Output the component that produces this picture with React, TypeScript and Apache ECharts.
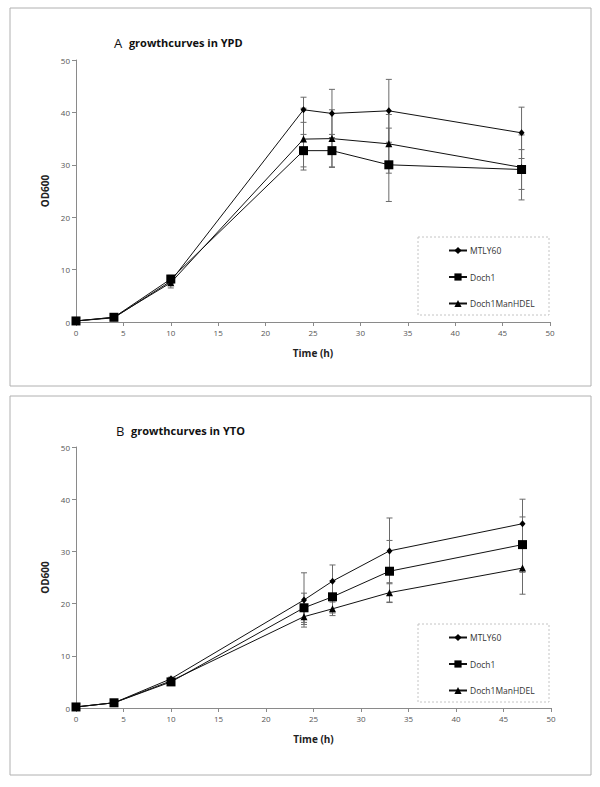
import React, { useEffect, useRef } from "react";
import * as echarts from "echarts";

const times = [0, 4, 10, 24, 27, 33, 47];
const seriesNames = ["MTLY60", "Doch1", "Doch1ManHDEL"];
const xTicks = { min: 0, max: 50, interval: 5 };
const yTicks = { min: 0, max: 50, interval: 10 };

// Panel A (YPD)
const mtlyA = [0.2, 0.8, 7.8, 40.5, 39.8, 40.3, 36.1];
const mtlyAErr = [0, 0, 0.5, 2.4, 4.6, 6.0, 4.9];
const doch1A = [0.2, 0.9, 8.2, 32.7, 32.7, 30.0, 29.1];
const doch1AErr = [0, 0, 0.7, 3.1, 3.1, 7.0, 3.8];
const manA = [0.2, 0.9, 7.5, 34.9, 35.0, 34.0, 29.5];
const manAErr = [0, 0, 1.0, 5.9, 5.5, 5.6, 6.2];

// Panel B (YTO)
const mtlyB = [0.2, 1.0, 5.6, 20.7, 24.3, 30.1, 35.3];
const mtlyBErr = [0, 0, 0.3, 5.2, 3.1, 6.3, 4.7];
const doch1B = [0.2, 1.0, 5.0, 19.2, 21.3, 26.2, 31.3];
const doch1BErr = [0, 0, 0.3, 2.8, 3.1, 5.9, 5.3];
const manB = [0.2, 1.0, 5.2, 17.5, 19.0, 22.1, 26.8];
const manBErr = [0, 0, 0.3, 1.5, 1.3, 1.9, 5.0];

const titleA = ["A", "growthcurves in YPD"];
const titleB = ["B", "growthcurves in YTO"];

const FONT = "'Open Sans', 'Noto Sans', sans-serif";

const symbols = [
  { symbol: "diamond", size: [6, 7] },
  { symbol: "rect", size: 9 },
  { symbol: "triangle", size: 7 },
];

function lineSeries(name: string, vals: number[], idx: number, panel: number) {
  return {
    type: "line",
    name,
    xAxisIndex: panel,
    yAxisIndex: panel,
    data: times.map((t, i) => [t, vals[i]]),
    symbol: symbols[idx].symbol,
    symbolSize: symbols[idx].size,
    showSymbol: true,
    itemStyle: { color: "#000" },
    lineStyle: { color: "#111", width: 1 },
    z: 3,
  };
}

function errSeries(vals: number[], errs: number[], panel: number) {
  return {
    type: "custom",
    name: "err" + panel,
    xAxisIndex: panel,
    yAxisIndex: panel,
    data: times.map((t, i) => [t, vals[i], errs[i]]),
    z: 2,
    silent: true,
    renderItem: (params: any, api: any) => {
      const x = api.value(0);
      const y = api.value(1);
      const e = api.value(2);
      if (!e) return { type: "group", children: [] };
      const top = api.coord([x, y + e]);
      const bot = api.coord([x, y - e]);
      const cap = 3;
      const style = { stroke: "#6a6a6a", lineWidth: 1 };
      return {
        type: "group",
        children: [
          { type: "line", shape: { x1: top[0], y1: top[1], x2: bot[0], y2: bot[1] }, style },
          { type: "line", shape: { x1: top[0] - cap, y1: top[1], x2: top[0] + cap, y2: top[1] }, style },
          { type: "line", shape: { x1: bot[0] - cap, y1: bot[1], x2: bot[0] + cap, y2: bot[1] }, style },
        ],
      };
    },
  };
}

function xAxis(panel: number) {
  return {
    type: "value",
    gridIndex: panel,
    min: xTicks.min,
    max: xTicks.max,
    interval: xTicks.interval,
    name: "Time (h)",
    nameLocation: "middle",
    nameGap: 26,
    nameTextStyle: { fontFamily: FONT, fontWeight: "bold", fontSize: 10, color: "#222" },
    axisLine: { show: true, lineStyle: { color: "#8a8a8a", width: 1 } },
    axisTick: { show: true, length: 4, lineStyle: { color: "#8a8a8a" } },
    axisLabel: { fontFamily: FONT, fontSize: 8, color: "#555", margin: 6 },
    splitLine: { show: false },
  };
}

function yAxis(panel: number) {
  return {
    type: "value",
    gridIndex: panel,
    min: yTicks.min,
    max: yTicks.max,
    interval: yTicks.interval,
    name: "OD600",
    nameLocation: "middle",
    nameGap: 23,
    nameTextStyle: { fontFamily: FONT, fontWeight: "bold", fontSize: 10, color: "#222" },
    axisLine: { show: true, lineStyle: { color: "#8a8a8a", width: 1 } },
    axisTick: { show: true, length: 4, lineStyle: { color: "#8a8a8a" } },
    axisLabel: { fontFamily: FONT, fontSize: 8, color: "#555", margin: 6 },
    splitLine: { show: false },
  };
}

function legend(top: number) {
  return {
    data: seriesNames,
    orient: "vertical",
    left: 443,
    top,
    itemWidth: 18,
    itemHeight: 9,
    itemGap: 17.5,
    selectedMode: false,
    textStyle: { fontFamily: FONT, fontSize: 8.5, color: "#333", padding: [0, 0, 0, -2] },
  };
}

function titleText(parts: string[], x: number, y: number) {
  return {
    type: "text",
    left: x,
    top: y,
    style: {
      text: "{a|" + parts[0] + "}  {b|" + parts[1] + "}",
      rich: {
        a: { fontFamily: FONT, fontSize: 13, fill: "#111" },
        b: { fontFamily: FONT, fontSize: 11, fontWeight: "bold", fill: "#111" },
      },
    },
  };
}

export default function App() {
  const ref = useRef<HTMLDivElement>(null);
  useEffect(() => {
    document.body.style.margin = "0";
    const chart = echarts.init(ref.current!, null, { renderer: "svg" });
    chart.setOption({
      animation: false,
      backgroundColor: "#fff",
      grid: [
        { left: 76, top: 60, width: 474, height: 262 },
        { left: 76, top: 447, width: 475, height: 261 },
      ],
      xAxis: [xAxis(0), xAxis(1)],
      yAxis: [yAxis(0), yAxis(1)],
      legend: [legend(241), legend(628)],
      graphic: [
        { type: "rect", shape: { x: 10, y: 8, width: 581, height: 378 }, style: { fill: "none", stroke: "#b0b0b0", lineWidth: 1 } },
        { type: "rect", shape: { x: 10, y: 396, width: 581, height: 379 }, style: { fill: "none", stroke: "#b0b0b0", lineWidth: 1 } },
        { type: "rect", shape: { x: 418, y: 237, width: 131, height: 78 }, style: { fill: "none", stroke: "#c4c4c4", lineWidth: 1, lineDash: [2, 2] } },
        { type: "rect", shape: { x: 418, y: 624, width: 131, height: 78 }, style: { fill: "none", stroke: "#c4c4c4", lineWidth: 1, lineDash: [2, 2] } },
        titleText(titleA, 114, 36),
        titleText(titleB, 116, 424),
      ],
      series: [
        errSeries(mtlyA, mtlyAErr, 0),
        errSeries(doch1A, doch1AErr, 0),
        errSeries(manA, manAErr, 0),
        lineSeries(seriesNames[0], mtlyA, 0, 0),
        lineSeries(seriesNames[1], doch1A, 1, 0),
        lineSeries(seriesNames[2], manA, 2, 0),
        errSeries(mtlyB, mtlyBErr, 1),
        errSeries(doch1B, doch1BErr, 1),
        errSeries(manB, manBErr, 1),
        lineSeries(seriesNames[0], mtlyB, 0, 1),
        lineSeries(seriesNames[1], doch1B, 1, 1),
        lineSeries(seriesNames[2], manB, 2, 1),
      ],
    });
    return () => chart.dispose();
  }, []);
  return <div ref={ref} style={{ width: 600, height: 787 }} />;
}
